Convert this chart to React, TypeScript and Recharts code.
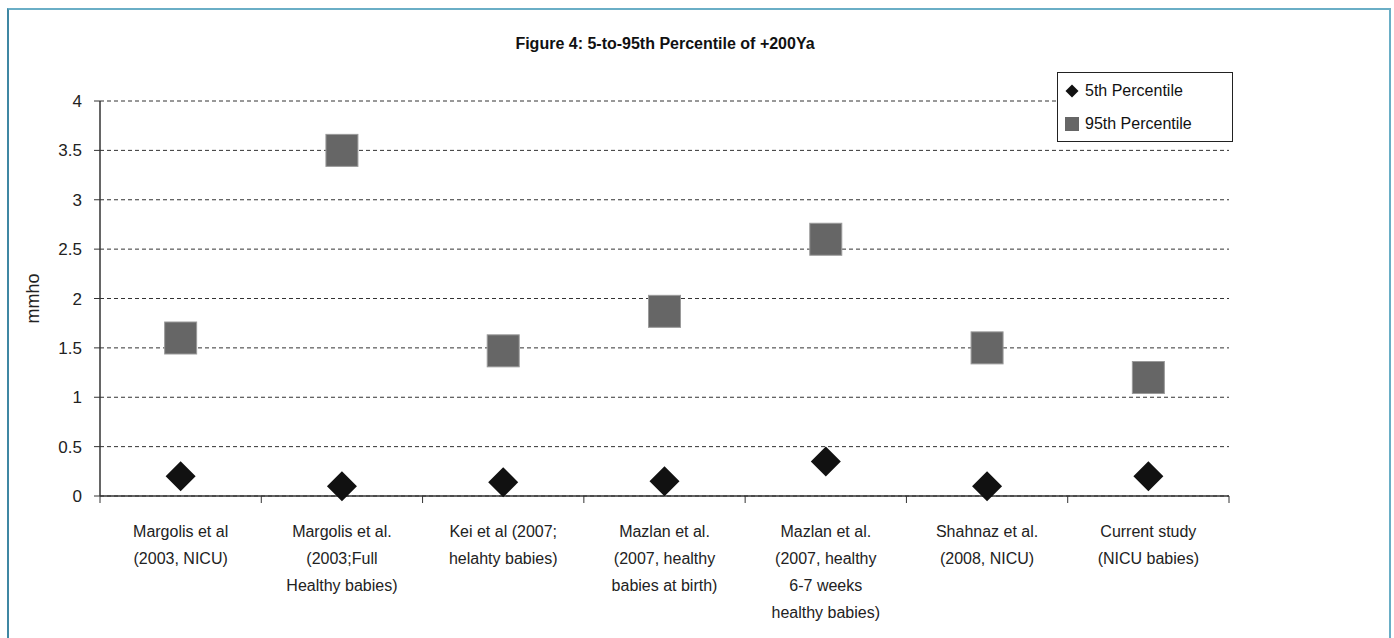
import { ScatterChart, Scatter, XAxis, YAxis, CartesianGrid, Legend } from 'recharts';

const categories = [
  'Margolis et al\n(2003, NICU)',
  'Margolis et al.\n(2003;Full\nHealthy babies)',
  'Kei et al (2007;\nhelahty babies)',
  'Mazlan et al.\n(2007, healthy\nbabies at birth)',
  'Mazlan et al.\n(2007, healthy\n6-7 weeks\nhealthy babies)',
  'Shahnaz et al.\n(2008, NICU)',
  'Current study\n(NICU babies)',
];
const p5 = [0.2, 0.1, 0.14, 0.15, 0.35, 0.1, 0.2];
const p95 = [1.6, 3.5, 1.47, 1.87, 2.6, 1.5, 1.2];
const yTicks = [0, 0.5, 1, 1.5, 2, 2.5, 3, 3.5, 4];

const FONT = '"Liberation Sans", Arial, sans-serif';

const p5Rows = categories.map((c, i) => ({ x: i + 0.5, y: p5[i], name: c }));
const p95Rows = categories.map((c, i) => ({ x: i + 0.5, y: p95[i], name: c }));
// boundaries get a tick mark, centres get the label
const xTicks = categories.flatMap((_, i) => [i, i + 0.5]).concat(categories.length);

const Diamond = (props: any) => {
  const { cx, cy } = props;
  const r = 15;
  return <polygon points={`${cx},${cy - r} ${cx + r},${cy} ${cx},${cy + r} ${cx - r},${cy}`} fill="#111" />;
};

const Square = (props: any) => {
  const { cx, cy } = props;
  return <rect x={cx - 16} y={cy - 16} width={32} height={32} fill="#666" stroke="#9a9a9a" strokeWidth={1} />;
};

const CategoryTick = (props: any) => {
  const { x, y, payload } = props;
  const v = payload.value;
  if (Number.isInteger(v)) {
    return <line x1={x} x2={x} y1={y} y2={y + 7} stroke="#333" strokeWidth={1} />;
  }
  const lines = (categories[Math.floor(v)] || '').split('\n');
  return (
    <text x={x} y={y} textAnchor="middle" fill="#222" fontSize={16} fontFamily={FONT}>
      {lines.map((l, i) => (
        <tspan key={i} x={x} dy={i === 0 ? 41 : 27}>{l}</tspan>
      ))}
    </text>
  );
};

const YTitle = (props: any) => {
  const { viewBox } = props;
  const x = 33;
  const y = viewBox.y + viewBox.height / 2;
  return (
    <text x={x} y={y} transform={`rotate(-90 ${x} ${y})`} textAnchor="middle" dominantBaseline="central"
      fill="#222" fontSize={18} fontFamily={FONT}>mmho</text>
  );
};

const LegendBox = () => (
  <div style={{
    width: 174, height: 68, border: '1px solid #222', background: '#fff',
    fontFamily: FONT, fontSize: 16, color: '#111', boxSizing: 'content-box',
  }}>
    <div style={{ display: 'flex', alignItems: 'center', height: 35, paddingLeft: 7 }}>
      <svg width={14} height={14} style={{ marginRight: 6 }}>
        <polygon points="7,0.5 13.5,7 7,13.5 0.5,7" fill="#111" />
      </svg>
      5th Percentile
    </div>
    <div style={{ display: 'flex', alignItems: 'center', height: 31, paddingLeft: 7 }}>
      <svg width={14} height={14} style={{ marginRight: 6 }}>
        <rect x={0} y={0} width={14} height={14} fill="#666" />
      </svg>
      95th Percentile
    </div>
  </div>
);

export default function App() {
  return (
    <div style={{ position: 'absolute', left: 0, top: 0, width: 1394, height: 638, background: '#fff', overflow: 'hidden' }}>
      <div style={{
        position: 'absolute', left: 7, top: 8, width: 1380, height: 700,
        borderTop: '2px solid #6aaec6', borderRight: '2px solid #6aaec6', borderLeft: '2px solid #3f87a3',
      }} />
      <div style={{
        position: 'absolute', left: 0, width: 1330, top: 35, textAlign: 'center',
        fontFamily: FONT, fontWeight: 'bold', fontSize: 16, color: '#111',
      }}>
        Figure 4: 5-to-95th Percentile of +200Ya
      </div>
      <div style={{ position: 'absolute', left: 0, top: 0 }}>
        <ScatterChart width={1394} height={638} margin={{ top: 101, right: 165, bottom: 0, left: 0 }}>
          <CartesianGrid vertical={false} stroke="#333" strokeDasharray="4 3" />
          <XAxis type="number" dataKey="x" domain={[0, categories.length]} ticks={xTicks} interval={0}
            tick={<CategoryTick />} tickLine={false} tickSize={0} tickMargin={0} height={142}
            axisLine={{ stroke: '#333', strokeWidth: 1.5 }} />
          <YAxis type="number" dataKey="y" domain={[0, 4]} ticks={yTicks} width={100} interval={0}
            axisLine={{ stroke: '#333', strokeWidth: 1.5 }} tickLine={{ stroke: '#333' }}
            tickSize={6} tickMargin={12}
            tick={{ fill: '#222', fontSize: 17, fontFamily: FONT }} label={<YTitle />} />
          <Legend layout="vertical" align="center" verticalAlign="middle" content={<LegendBox />}
            wrapperStyle={{ left: 1057, top: 72, width: 176, height: 70 }} />
          <Scatter name="5th Percentile" data={p5Rows} shape={<Diamond />} isAnimationActive={false} />
          <Scatter name="95th Percentile" data={p95Rows} shape={<Square />} isAnimationActive={false} />
        </ScatterChart>
      </div>
    </div>
  );
}
